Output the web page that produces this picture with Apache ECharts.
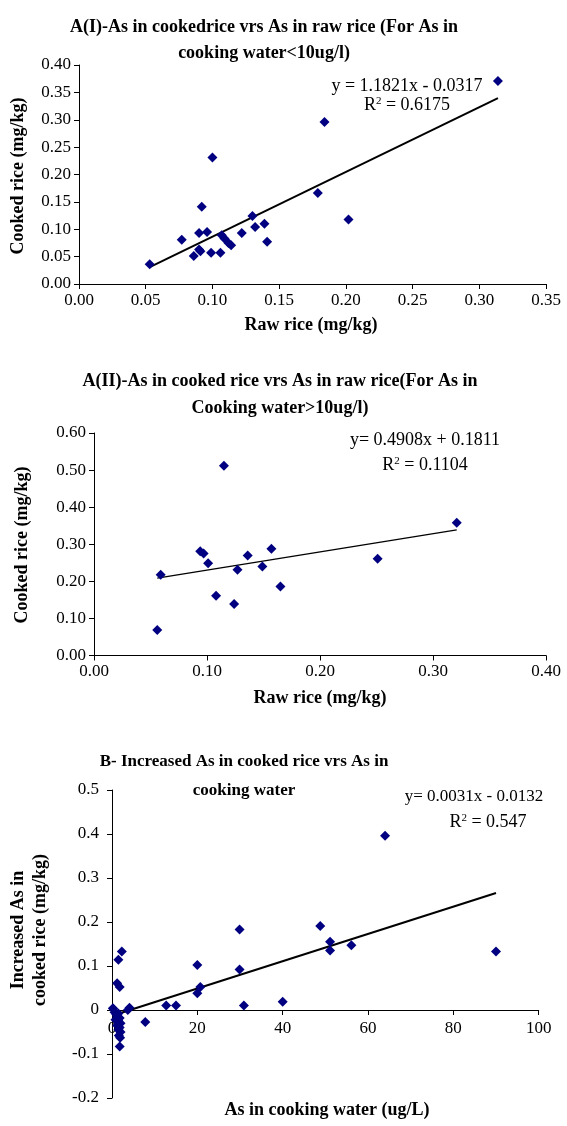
<!DOCTYPE html>
<html>
<head>
<meta charset="utf-8">
<script src="https://cdn.jsdelivr.net/npm/echarts@6/dist/echarts.min.js"></script>
<style>
  html, body { margin: 0; padding: 0; background: #ffffff; }
  #chart { width: 567px; height: 1126px; }
</style>
</head>
<body>
<div id="chart"></div>
<script>
// A(I): As in cooking water < 10 ug/l
const rawRiceA1 = [0.053, 0.077, 0.086, 0.090, 0.091, 0.090, 0.092, 0.096, 0.100, 0.099, 0.106, 0.107,
  0.109, 0.112, 0.114, 0.122, 0.130, 0.132, 0.139, 0.141, 0.179, 0.184, 0.202, 0.314];
const cookedRiceA1 = [0.036, 0.081, 0.051, 0.063, 0.060, 0.093, 0.141, 0.095, 0.231, 0.057, 0.057, 0.089,
  0.083, 0.075, 0.071, 0.093, 0.124, 0.104, 0.110, 0.077, 0.166, 0.296, 0.118, 0.371];
const fitA1 = { slope: 1.1821, intercept: -0.0317, r2: '0.6175' };

// A(II): As in cooking water > 10 ug/l
const rawRiceA2 = [0.115, 0.094, 0.097, 0.101, 0.059, 0.056, 0.108, 0.124, 0.127, 0.136, 0.149, 0.157,
  0.165, 0.251, 0.321];
const cookedRiceA2 = [0.512, 0.281, 0.275, 0.249, 0.218, 0.069, 0.161, 0.139, 0.231, 0.270, 0.240, 0.288,
  0.186, 0.261, 0.358];
const fitA2 = { slope: 0.4908, intercept: 0.1811, r2: '0.1104' };

// B: increase of As in cooked rice against As in cooking water
const waterAsB = [2.3, 1.5, 1.2, 1.8, 0.2, 4.1, 3.7, 7.8, 12.7, 15.0, 20.0, 20.0, 20.7, 1.8,
  0.3, 0.6, 1.0, 1.5, 1.2, 1.8, 0.8, 1.5, 2.0, 1.2, 1.8, 1.5, 2.0, 1.6, 1.9,
  29.9, 29.9, 30.9, 40.0, 48.8, 51.1, 51.1, 56.1, 64.0, 90.0];
const increaseB = [0.133, 0.114, 0.061, 0.052, 0.004, 0.005, 0.000, -0.027, 0.010, 0.010, 0.102, 0.038, 0.052, -0.083,
  0.003, -0.005, -0.010, -0.008, -0.015, -0.018, -0.022, -0.025, -0.030, -0.035, -0.040, -0.045, -0.050, -0.058, -0.063,
  0.183, 0.092, 0.010, 0.019, 0.191, 0.155, 0.135, 0.147, 0.396, 0.133];
const fitB = { slope: 0.0031, intercept: -0.0132, r2: '0.547' };

const SERIF = '"Liberation Serif", "Times New Roman", serif';
const NAVY = '#000080';

function pairs(xs, ys) { return xs.map((x, i) => [x, ys[i]]); }
function fitLine(xs, fit) {
  const lo = Math.min(...xs), hi = Math.max(...xs);
  return [[lo, fit.slope * lo + fit.intercept], [hi, fit.slope * hi + fit.intercept]];
}
function fmtEq(fit, eqSep, opSep) {
  const sign = fit.intercept < 0 ? '-' : '+';
  return 'y' + eqSep + fit.slope.toFixed(4) + 'x' + opSep + sign + opSep + Math.abs(fit.intercept).toFixed(4);
}

const tickLabel = { color: '#000', fontFamily: SERIF, fontSize: 17 };
const axisLine = { show: true, onZero: false, lineStyle: { color: '#000', width: 1 } };
const axisTick = { show: true, length: 5, lineStyle: { color: '#000' } };

function valueAxis(idx, min, max, interval, digits, margin, extra) {
  return Object.assign({
    type: 'value', gridIndex: idx, min: min, max: max, interval: interval,
    axisLine: axisLine, axisTick: axisTick,
    axisLabel: Object.assign({}, tickLabel, {
      margin: margin,
      formatter: v => digits >= 0 ? v.toFixed(digits) : String(Math.round(v * 10) / 10)
    }),
    splitLine: { show: false }
  }, extra || {});
}

function scatter(idx, data) {
  return {
    type: 'scatter', xAxisIndex: idx, yAxisIndex: idx, data: data,
    symbol: 'diamond', symbolSize: [10, 10],
    itemStyle: { color: NAVY, opacity: 1 }, silent: true, z: 3
  };
}
function trend(idx, data, width) {
  return {
    type: 'line', xAxisIndex: idx, yAxisIndex: idx, data: data,
    showSymbol: false, lineStyle: { color: '#000', width: width }, silent: true, z: 2
  };
}

function label(x, y, text, font, rot) {
  return {
    type: 'text', x: x, y: y, rotation: rot || 0,
    style: { text: text, fill: '#000', font: font, textAlign: 'center', textVerticalAlign: 'middle', lineHeight: 22 }
  };
}
function r2Label(x, y, value) {
  return {
    type: 'text', x: x, y: y,
    style: {
      text: '{b|R}{s|2}{b| = ' + value + '}', textAlign: 'center', textVerticalAlign: 'middle',
      rich: {
        b: { font: '18px ' + SERIF, fill: '#000' },
        s: { font: '11px ' + SERIF, fill: '#000', verticalAlign: 'top' }
      }
    }
  };
}

const EQ_FONT = '18px ' + SERIF;
const NAME_FONT = 'bold 18px ' + SERIF;
const titleStyle = { fontFamily: SERIF, fontSize: 18, fontWeight: 'bold', color: '#000' };

const chart = echarts.init(document.getElementById('chart'), null, { renderer: 'canvas' });

chart.setOption({
  backgroundColor: '#ffffff',
  animation: false,
  title: [
    { text: 'A(I)-As in cookedrice vrs As in raw rice (For As in\ncooking water<10ug/l)',
      left: 259, top: 9, textAlign: 'center',
      textStyle: Object.assign({ lineHeight: 26 }, titleStyle) },
    { text: 'A(II)-As in cooked rice vrs As in raw rice(For As in\nCooking water>10ug/l)',
      left: 275, top: 363, textAlign: 'center',
      textStyle: Object.assign({ lineHeight: 27 }, titleStyle) },
    { text: 'B- Increased As in cooked rice vrs As in\ncooking water',
      left: 239, top: 742, textAlign: 'center',
      textStyle: Object.assign({ lineHeight: 29 }, titleStyle, { fontSize: 17 }) }
  ],
  grid: [
    { left: 79, top: 65, width: 467, height: 219 },
    { left: 94, top: 433, width: 452, height: 222.5 },
    { left: 112, top: 790, width: 426.7, height: 308 }
  ],
  xAxis: [
    valueAxis(0, 0, 0.35, 0.05, 2, 8),
    valueAxis(1, 0, 0.4, 0.1, 2, 8),
    // panel B: horizontal axis drawn through y = 0 (88 px above the grid bottom)
    valueAxis(2, 0, 100, 20, 0, 10, { position: 'bottom', offset: -88 })
  ],
  yAxis: [
    valueAxis(0, 0, 0.4, 0.05, 2, 8),
    valueAxis(1, 0, 0.6, 0.1, 2, 8),
    valueAxis(2, -0.2, 0.5, 0.1, -1, 13)
  ],
  series: [
    scatter(0, pairs(rawRiceA1, cookedRiceA1)),
    trend(0, fitLine(rawRiceA1, fitA1), 2),
    scatter(1, pairs(rawRiceA2, cookedRiceA2)),
    trend(1, fitLine(rawRiceA2, fitA2), 1.3),
    scatter(2, pairs(waterAsB, increaseB)),
    trend(2, fitLine(waterAsB, fitB), 2)
  ],
  graphic: [
    // regression equations
    label(407, 86, fmtEq(fitA1, ' = ', ' '), EQ_FONT),
    r2Label(407, 105, fitA1.r2),
    label(425, 440, fmtEq(fitA2, '= ', ' '), EQ_FONT),
    r2Label(425, 465, fitA2.r2),
    label(474, 797, fmtEq(fitB, '= ', ' '), '17px ' + SERIF),
    r2Label(488, 822, fitB.r2),
    // axis titles
    label(311, 325, 'Raw rice (mg/kg)', NAME_FONT),
    label(18, 176, 'Cooked rice (mg/kg)', NAME_FONT, Math.PI / 2),
    label(320, 698, 'Raw rice (mg/kg)', NAME_FONT),
    label(22, 545, 'Cooked rice (mg/kg)', NAME_FONT, Math.PI / 2),
    label(327, 1110, 'As in cooking water (ug/L)', NAME_FONT),
    label(29, 930, 'Increased As in\ncooked rice (mg/kg)', NAME_FONT, Math.PI / 2)
  ]
});
</script>
</body>
</html>
